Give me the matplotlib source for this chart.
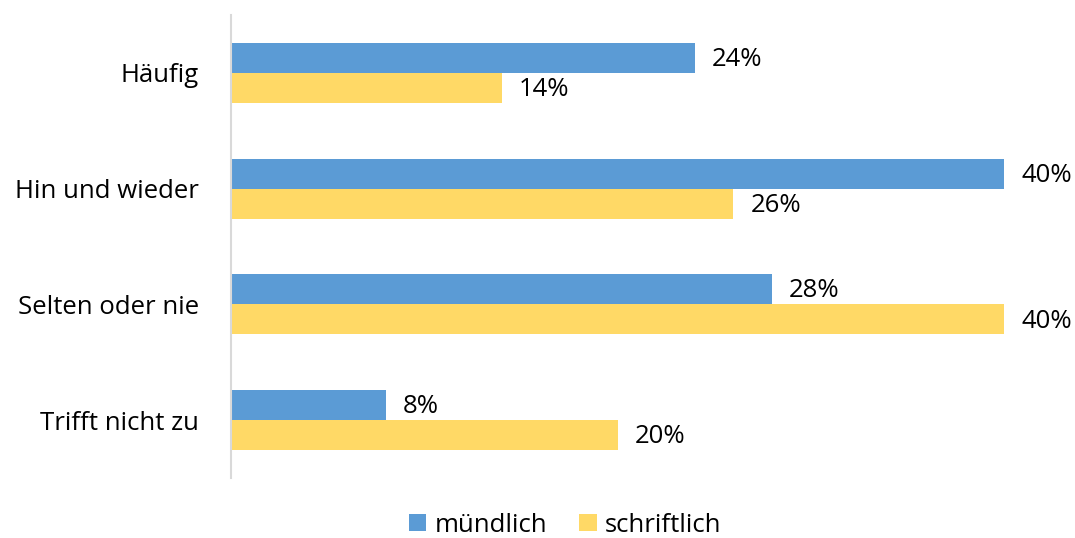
import matplotlib
matplotlib.use("Agg")
import matplotlib.pyplot as plt
import numpy as np

categories = ["Häufig", "Hin und wieder", "Selten oder nie", "Trifft nicht zu"]
muendlich = [24, 40, 28, 8]
schriftlich = [14, 26, 40, 20]
series_names = ["mündlich", "schriftlich"]

plt.rcParams['font.family'] = ['Open Sans', 'DejaVu Sans']

W, H = 1075, 538
fig = plt.figure(figsize=(W/100, H/100), dpi=100)
ax = fig.add_axes([231/W, 1-478/H, (1004-231)/W, (478-15)/H])

blue = "#5B9BD5"
yellow = "#FFD966"
n = len(categories)
y = np.arange(n)
bh = 0.26
b1 = ax.barh(y - bh/2, muendlich, height=bh, color=blue, label=series_names[0])
b2 = ax.barh(y + bh/2, schriftlich, height=bh, color=yellow, label=series_names[1])

fs = 18.5
for bars, vals in ((b1, muendlich), (b2, schriftlich)):
    for rect, v in zip(bars, vals):
        ax.annotate(f"{v}%", xy=(rect.get_width(), rect.get_y() + rect.get_height()/2),
                    xytext=(17*0.72, -1.2), textcoords="offset points",
                    va="center", ha="left", fontsize=fs, color="#000000")

ax.set_xlim(0, 40)
ax.set_ylim(n - 0.5, -0.5)
ax.set_yticks(y)
ax.set_yticklabels(categories, fontsize=fs)
ax.tick_params(axis='y', length=0, pad=32*0.72)
ax.set_xticks([])
for s in ("top", "right", "bottom"):
    ax.spines[s].set_visible(False)
ax.spines["left"].set_color("#D9D9D9")
ax.spines["left"].set_linewidth(1.5)

fig.legend(handles=[b1, b2], labels=series_names, loc="center", ncol=2,
           bbox_to_anchor=(565/W, 1-525/H), frameon=False, fontsize=fs,
           handlelength=0.68, handleheight=0.68, handletextpad=0.32, columnspacing=1.25,
           borderpad=0, borderaxespad=0)

fig.savefig("out.png", dpi=100, facecolor="white")
